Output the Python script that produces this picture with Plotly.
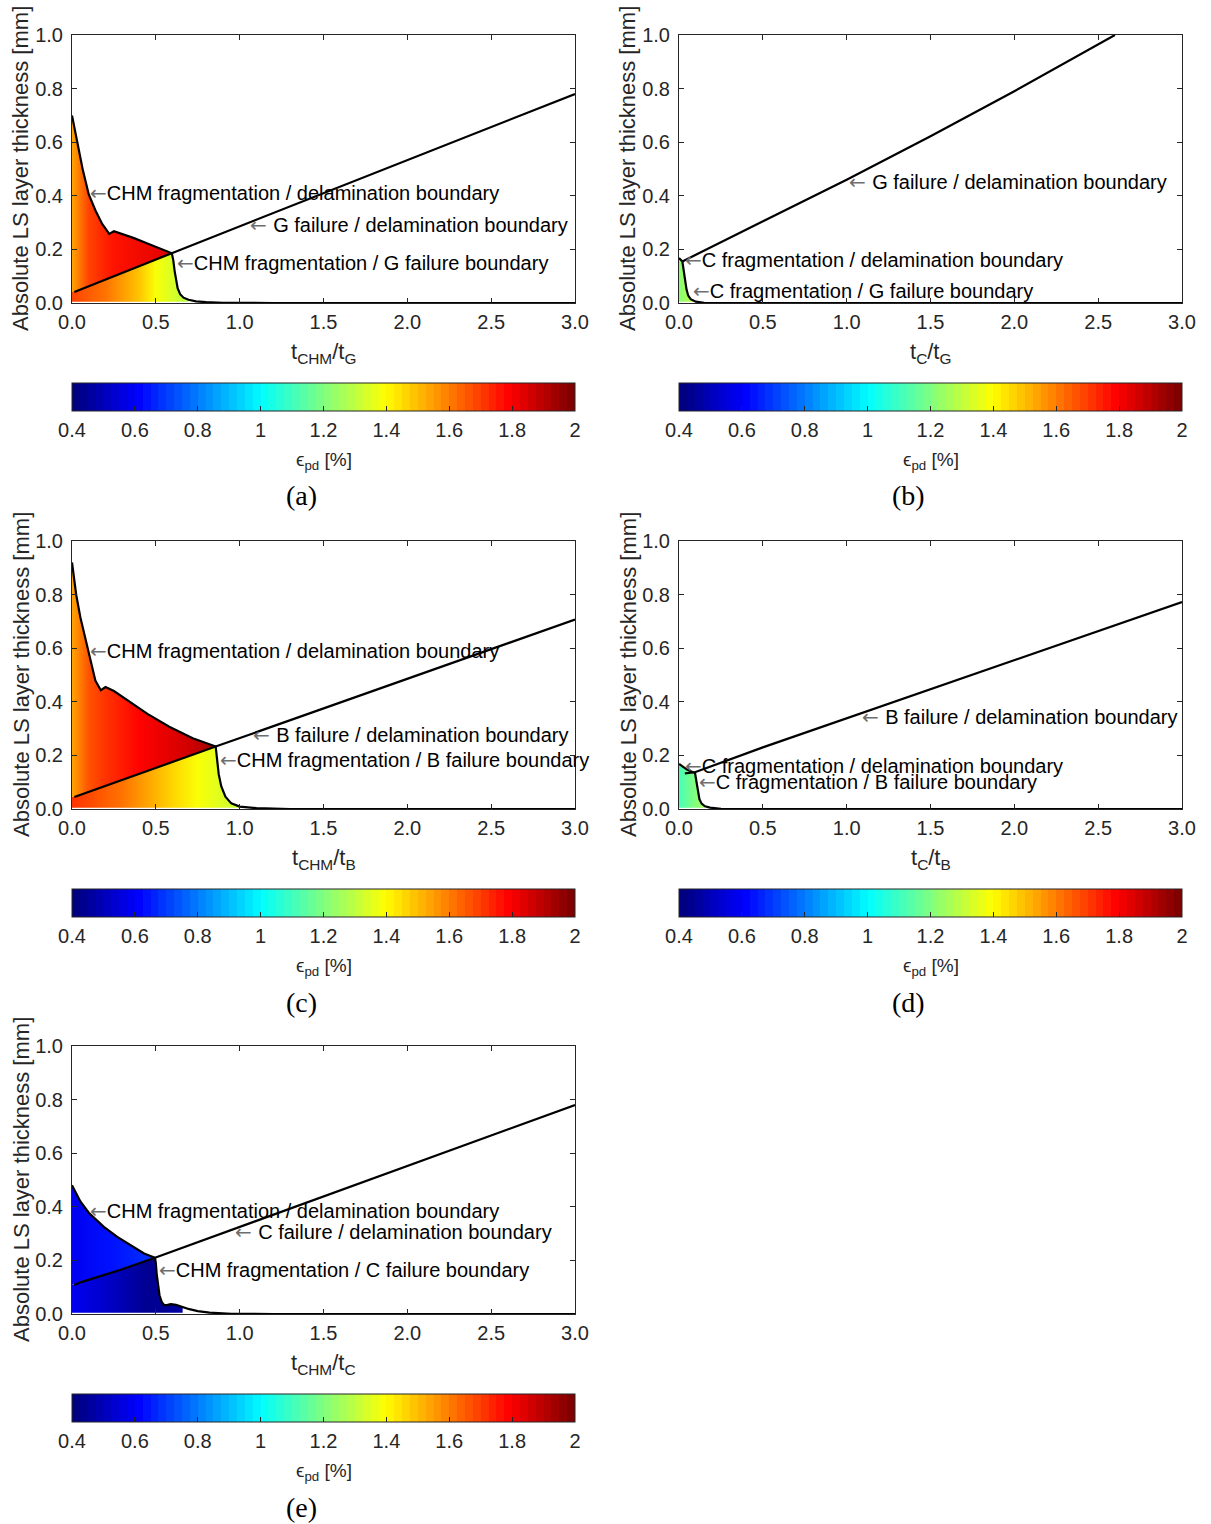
import numpy as np
import plotly.graph_objects as go

W, H = 1211, 1524
VMIN, VMAX = 0.4, 2.0
FB = 0.005  # bottom edge of the filled regions

# ---------------- panel (a): t_CHM / t_G ----------------
a_upper_x = [0.0, 0.02, 0.04, 0.065, 0.1, 0.14, 0.18, 0.222, 0.25, 0.3, 0.37, 0.45, 0.53, 0.595]
a_upper_y = [0.70, 0.64, 0.575, 0.495, 0.405, 0.345, 0.295, 0.258, 0.268, 0.258, 0.242, 0.222, 0.203, 0.186]
a_line_x = [0.014, 0.595, 3.0]
a_line_y = [0.041, 0.186, 0.78]
a_drop_x = [0.595, 0.604, 0.612, 0.62, 0.63, 0.645, 0.665, 0.695, 0.74, 0.8, 0.9, 1.2, 3.0]
a_drop_y = [0.186, 0.16, 0.12, 0.085, 0.055, 0.033, 0.02, 0.012, 0.006, 0.003, 0.001, 0.0, 0.0]
a_up_gx, a_up_gv = [0.0, 0.1, 0.25, 0.595], [1.55, 1.68, 1.77, 1.83]
a_lo_gx, a_lo_gv = [0.0, 0.2, 0.4, 0.5, 0.695], [1.70, 1.60, 1.48, 1.40, 1.28]

# ---------------- panel (b): t_C / t_G ----------------
b_top_x = [0.0, 0.02]
b_top_y = [0.168, 0.155]
b_line_x = [0.02, 0.5, 1.0, 1.5, 2.0, 2.6]
b_line_y = [0.155, 0.304, 0.460, 0.622, 0.790, 1.0]
b_drop_x = [0.02, 0.027, 0.035, 0.045, 0.055, 0.07, 0.1, 0.15, 0.3, 3.0]
b_drop_y = [0.155, 0.12, 0.085, 0.05, 0.028, 0.014, 0.005, 0.001, 0.0, 0.0]
b_gx, b_gv = [0.0, 0.1], [1.22, 1.30]

# ---------------- panel (c): t_CHM / t_B ----------------
c_upper_x = [0.0, 0.025, 0.05, 0.1, 0.14, 0.172, 0.2, 0.25, 0.33, 0.45, 0.58, 0.72, 0.857]
c_upper_y = [0.92, 0.80, 0.715, 0.58, 0.478, 0.443, 0.455, 0.44, 0.405, 0.355, 0.307, 0.264, 0.233]
c_line_x = [0.014, 0.857, 3.0]
c_line_y = [0.045, 0.233, 0.707]
c_drop_x = [0.857, 0.862, 0.868, 0.875, 0.89, 0.915, 0.95, 1.0, 1.1, 1.3, 3.0]
c_drop_y = [0.233, 0.2, 0.16, 0.13, 0.085, 0.046, 0.021, 0.009, 0.003, 0.0, 0.0]
c_up_gx, c_up_gv = [0.0, 0.1, 0.2, 0.4, 0.7, 0.857], [1.55, 1.65, 1.72, 1.80, 1.86, 1.94]
c_lo_gx, c_lo_gv = [0.0, 0.3, 0.6, 0.75, 1.0], [1.72, 1.60, 1.47, 1.40, 1.30]

# ---------------- panel (d): t_C / t_B ----------------
d_top_x = [0.0, 0.02, 0.05, 0.08, 0.095]
d_top_y = [0.168, 0.158, 0.146, 0.138, 0.136]
d_line_x = [0.035, 0.095, 0.5, 3.0]
d_line_y = [0.133, 0.137, 0.23, 0.772]
d_drop_x = [0.095, 0.1, 0.105, 0.112, 0.122, 0.135, 0.155, 0.185, 0.25, 0.4, 3.0]
d_drop_y = [0.136, 0.115, 0.09, 0.062, 0.036, 0.02, 0.01, 0.005, 0.001, 0.0, 0.0]
d_gx, d_gv = [0.0, 0.155], [1.10, 1.25]

# ---------------- panel (e): t_CHM / t_C ----------------
e_upper_x = [0.0, 0.05, 0.1, 0.19, 0.27, 0.35, 0.43, 0.495]
e_upper_y = [0.48, 0.42, 0.378, 0.325, 0.288, 0.256, 0.226, 0.21]
e_line_x = [0.012, 0.06, 0.127, 0.2, 0.286, 0.495, 3.0]
e_line_y = [0.108, 0.12, 0.133, 0.147, 0.164, 0.21, 0.78]
e_drop_x = [0.495, 0.5, 0.505, 0.512, 0.522, 0.535, 0.55, 0.57, 0.59, 0.62, 0.66, 0.7, 0.75, 0.82, 0.95, 1.2, 3.0]
e_drop_y = [0.21, 0.19, 0.15, 0.11, 0.07, 0.045, 0.033, 0.034, 0.037, 0.034, 0.026, 0.018, 0.011, 0.005, 0.001, 0.0, 0.0]
e_up_gx, e_up_gv = [0.0, 0.25, 0.495], [0.60, 0.64, 0.70]
e_lo_gx, e_lo_gv = [0.0, 0.25, 0.45, 0.66], [0.58, 0.52, 0.45, 0.47]

x_titles = ["t<sub>CHM</sub>/t<sub>G</sub>", "t<sub>C</sub>/t<sub>G</sub>",
            "t<sub>CHM</sub>/t<sub>B</sub>", "t<sub>C</sub>/t<sub>B</sub>",
            "t<sub>CHM</sub>/t<sub>C</sub>"]
panel_tags = ["(a)", "(b)", "(c)", "(d)", "(e)"]
y_title = "Absolute LS layer thickness [mm]"
cbar_title = "ϵ<sub>pd</sub> [%]"

notes = [
    [("←", "CHM fragmentation / delamination boundary", 0.095, 0.41),
     ("← ", "G failure / delamination boundary", 1.05, 0.29),
     ("←", "CHM fragmentation / G failure boundary", 0.614, 0.149)],
    [("← ", "G failure / delamination boundary", 1.0, 0.45),
     ("←", "C fragmentation / delamination boundary", 0.024, 0.162),
     ("←", "C fragmentation / G failure boundary", 0.07, 0.043)],
    [("←", "CHM fragmentation / delamination boundary", 0.095, 0.59),
     ("← ", "B failure / delamination boundary", 1.07, 0.276),
     ("←", "CHM fragmentation / B failure boundary", 0.87, 0.183)],
    [("← ", "B failure / delamination boundary", 1.08, 0.343),
     ("←", "C fragmentation / delamination boundary", 0.024, 0.162),
     ("←", "C fragmentation / B failure boundary", 0.105, 0.10)],
    [("←", "CHM fragmentation / delamination boundary", 0.095, 0.384),
     ("← ", "C failure / delamination boundary", 0.96, 0.306),
     ("←", "CHM fragmentation / C failure boundary", 0.507, 0.164)],
]

# ---------------- layout geometry (pixels) ----------------
COLS = [(72, 575), (679, 1182)]
ROWS = [(35, 303), (541, 809), (1046, 1314)]
CBAR_TOP = [383, 889, 1394]
CBAR_TH = 28
place = [(0, 0), (1, 0), (0, 1), (1, 1), (0, 2)]

FONT = "Liberation Sans, Arial, sans-serif"
AXC = "#262626"


def jet_rgb(t):
    t = min(max(t, 0.0), 1.0)
    r = min(max(min(4 * t - 1.5, -4 * t + 4.5), 0), 1)
    g = min(max(min(4 * t - 0.5, -4 * t + 3.5), 0), 1)
    b = min(max(min(4 * t + 0.5, -4 * t + 2.5), 0), 1)
    return f"rgb({round(r * 255)},{round(g * 255)},{round(b * 255)})"


def vcolor(v):
    t = (v - VMIN) / (VMAX - VMIN)
    i = int(np.clip(np.floor(t * 64), 0, 63))
    return jet_rgb(i / 63)


JET64 = []
for i in range(64):
    c = jet_rgb(i / 63)
    JET64 += [[i / 64, c], [(i + 1) / 64, c]]


def gradient(gx, gv):
    x0, x1 = gx[0], gx[-1]
    cs = [[(x - x0) / (x1 - x0), vcolor(v)] for x, v in zip(gx, gv)]
    return dict(type="horizontal", colorscale=cs, start=x0, stop=x1)


def upto(xs, ys, xmax):
    px, py = [], []
    for x, y in zip(xs, ys):
        if x <= xmax + 1e-9:
            px.append(x)
            py.append(y)
    return px, py


fig = go.Figure()


def ax(i):
    return ("x" if i == 1 else f"x{i}"), ("y" if i == 1 else f"y{i}")


def add_fill(i, px, py, gx, gv):
    xa, ya = ax(i)
    fig.add_trace(go.Scatter(x=px, y=py, xaxis=xa, yaxis=ya, mode="lines",
                             line=dict(width=0), fill="toself",
                             fillgradient=gradient(gx, gv), hoverinfo="skip"))


def add_line(i, xs, ys):
    xa, ya = ax(i)
    fig.add_trace(go.Scatter(x=xs, y=ys, xaxis=xa, yaxis=ya, mode="lines",
                             line=dict(color="black", width=2.2), hoverinfo="skip"))


# ----- (a)
dx, dy = upto(a_drop_x, a_drop_y, 0.695)
add_fill(1, a_upper_x + [a_line_x[0], 0.0], a_upper_y + [a_line_y[0], a_line_y[0]], a_up_gx, a_up_gv)
add_fill(1, [0.0, 0.0] + a_line_x[:2] + dx[1:] + [dx[-1]],
         [FB, a_line_y[0]] + a_line_y[:2] + dy[1:] + [FB], a_lo_gx, a_lo_gv)
add_line(1, a_upper_x, a_upper_y)
add_line(1, a_line_x, a_line_y)
add_line(1, a_drop_x, a_drop_y)

# ----- (b)
dx, dy = upto(b_drop_x, b_drop_y, 0.1)
add_fill(2, [0.0] + b_top_x + dx[1:] + [dx[-1]], [FB] + b_top_y + dy[1:] + [FB], b_gx, b_gv)
add_line(2, b_top_x, b_top_y)
add_line(2, b_line_x, b_line_y)
add_line(2, b_drop_x, b_drop_y)

# ----- (c)
dx, dy = upto(c_drop_x, c_drop_y, 1.0)
add_fill(3, c_upper_x + [c_line_x[0], 0.0], c_upper_y + [c_line_y[0], c_line_y[0]], c_up_gx, c_up_gv)
add_fill(3, [0.0, 0.0] + c_line_x[:2] + dx[1:] + [dx[-1]],
         [FB, c_line_y[0]] + c_line_y[:2] + dy[1:] + [FB], c_lo_gx, c_lo_gv)
add_line(3, c_upper_x, c_upper_y)
add_line(3, c_line_x, c_line_y)
add_line(3, c_drop_x, c_drop_y)

# ----- (d)
dx, dy = upto(d_drop_x, d_drop_y, 0.155)
add_fill(4, [0.0] + d_top_x + dx[1:] + [dx[-1]], [FB] + d_top_y + dy[1:] + [FB], d_gx, d_gv)
add_line(4, d_top_x, d_top_y)
add_line(4, d_line_x, d_line_y)
add_line(4, d_drop_x, d_drop_y)

# ----- (e)
ex, ey = upto(e_line_x, e_line_y, 0.495)
dx, dy = upto(e_drop_x, e_drop_y, 0.66)
add_fill(5, e_upper_x + ex[::-1][1:] + [0.0], e_upper_y + ey[::-1][1:] + [ey[0]], e_up_gx, e_up_gv)
add_fill(5, [0.0, 0.0] + ex + dx[1:] + [dx[-1]], [FB, ey[0]] + ey + dy[1:] + [FB], e_lo_gx, e_lo_gv)
add_line(5, e_upper_x, e_upper_y)
add_line(5, e_line_x, e_line_y)
add_line(5, e_drop_x, e_drop_y)

layout = dict(width=W, height=H, margin=dict(l=0, r=0, t=0, b=0, autoexpand=False),
              paper_bgcolor="white", plot_bgcolor="white", showlegend=False)
annotations = []

for k in range(5):
    i = k + 1
    col, row = place[k]
    x0p, x1p = COLS[col]
    y0p, y1p = ROWS[row]
    xdom = [x0p / W, x1p / W]
    ydom = [1 - y1p / H, 1 - y0p / H]
    xa, ya = ax(i)
    xk = "xaxis" if i == 1 else f"xaxis{i}"
    yk = "yaxis" if i == 1 else f"yaxis{i}"
    common = dict(showline=True, mirror="ticks", linecolor=AXC, linewidth=1,
                  ticks="inside", ticklen=5, tickcolor=AXC, showgrid=False,
                  zeroline=False, tickformat=".1f",
                  tickfont=dict(family=FONT, size=20, color=AXC))
    layout[xk] = dict(domain=xdom, anchor=ya, range=[0, 3], tick0=0, dtick=0.5,
                      ticklabelstandoff=1, **common)
    layout[yk] = dict(domain=ydom, anchor=xa, range=[0, 1], tick0=0, dtick=0.2,
                      ticklabelstandoff=4, **common)

    # colorbar axes (tick labels) + coloraxis colorbar
    j = 5 + i
    cxk, cyk = f"xaxis{j}", f"yaxis{j}"
    ctop = CBAR_TOP[row]
    layout[cxk] = dict(domain=xdom, anchor=f"y{j}", range=[VMIN, VMAX], tick0=VMIN, dtick=0.2,
                       showline=False, ticks="", showgrid=False, zeroline=False,
                       ticklabelstandoff=5,
                       tickfont=dict(family=FONT, size=20, color=AXC))
    layout[cyk] = dict(domain=[1 - (ctop + CBAR_TH) / H, 1 - ctop / H], anchor=f"x{j}",
                       range=[0, 1], visible=False)
    cak = "coloraxis" if i == 1 else f"coloraxis{i}"
    layout[cak] = dict(cmin=VMIN, cmax=VMAX, colorscale=JET64, showscale=True,
                       colorbar=dict(orientation="h", x=x0p / W, xanchor="left",
                                     y=1 - ctop / H, yanchor="top",
                                     len=x1p - x0p, lenmode="pixels",
                                     thickness=CBAR_TH, thicknessmode="pixels",
                                     xpad=0, ypad=0, outlinewidth=1, outlinecolor=AXC,
                                     ticks="inside", ticklen=5, tickcolor=AXC,
                                     tick0=VMIN, dtick=0.2, showticklabels=False))
    fig.add_trace(go.Scatter(x=[VMIN, VMAX], y=[0.5, 0.5], xaxis=f"x{j}", yaxis=f"y{j}",
                             mode="markers",
                             marker=dict(color=[VMIN, VMAX], coloraxis=cak, opacity=0, size=1),
                             hoverinfo="skip"))

    xc = (x0p + x1p) / 2
    # x-axis title
    annotations.append(dict(xref="paper", yref="paper", x=xc / W, y=1 - (y1p + 34) / H,
                            xanchor="center", yanchor="top", showarrow=False,
                            text=x_titles[k], font=dict(family=FONT, size=22, color=AXC)))
    # y-axis title
    annotations.append(dict(xref="paper", yref="paper", x=(x0p - 51) / W,
                            y=1 - ((y0p + y1p) / 2) / H, xanchor="center", yanchor="middle",
                            textangle=-90, showarrow=False, text=y_title,
                            font=dict(family=FONT, size=22, color=AXC)))
    # colorbar title
    annotations.append(dict(xref="paper", yref="paper", x=xc / W, y=1 - (ctop + 78) / H,
                            xanchor="center", yanchor="middle", showarrow=False,
                            text=cbar_title, font=dict(family=FONT, size=19, color=AXC)))
    # panel tag
    annotations.append(dict(xref="paper", yref="paper", x=(xc - 22) / W, y=1 - (ctop + 113) / H,
                            xanchor="center", yanchor="middle", showarrow=False,
                            text=panel_tags[k],
                            font=dict(family="Liberation Serif, Times New Roman, serif",
                                      size=28, color="black")))
    # boundary labels
    for arrow, label, nx, ny in notes[k]:
        annotations.append(dict(xref=xa, yref=ya, x=nx, y=ny, xanchor="left",
                                yanchor="middle", showarrow=False,
                                text=("<span style='font-family:DejaVu Sans;color:#6e6e6e'>"
                                      f"{arrow}</span>{label}"),
                                font=dict(family=FONT, size=20, color="black")))

layout["annotations"] = annotations
fig.update_layout(**layout)
fig.write_html("out.html")
